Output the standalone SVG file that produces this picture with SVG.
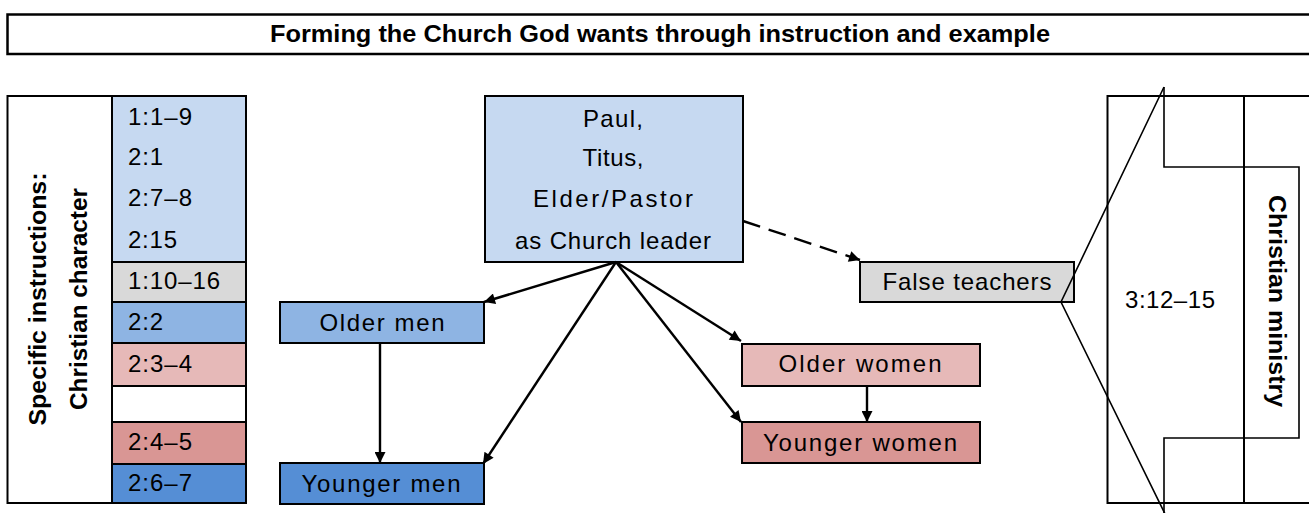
<svg xmlns="http://www.w3.org/2000/svg" width="1309" height="513" viewBox="0 0 1309 513">
<defs>
<style>
.t{font-family:"Liberation Sans",Arial,sans-serif;font-size:24px;fill:#000;}
.c{text-anchor:middle;}
.b{font-weight:bold;}
.box{stroke:#000;stroke-width:2;}
.ln{stroke:#000;stroke-width:2;fill:none;}
.con{stroke:#000;stroke-width:2.4;fill:none;}
.thin{stroke:#000;stroke-width:1.6;fill:none;}
</style>
<marker id="ah" viewBox="0 0 10 10" refX="10" refY="5" markerWidth="13" markerHeight="11" markerUnits="userSpaceOnUse" orient="auto">
<path d="M0,0 L10,5 L0,10 z" fill="#000"/>
</marker>
</defs>
<rect width="1309" height="513" fill="#fff"/>

<g id="title">
<rect x="7.5" y="14.5" width="1320" height="39.5" fill="#fff" stroke="#000" stroke-width="2.5"/>
<text class="t c b" x="660" y="41.5" font-size="23" textLength="780" lengthAdjust="spacingAndGlyphs">Forming the Church God wants through instruction and example</text>
</g>

<g id="left-panel">
<rect x="7.5" y="96" width="238.5" height="407" fill="#fff" class="box"/>
<rect x="112" y="96" width="134" height="166" fill="#C6D9F1" class="box"/>
<rect x="112" y="262" width="134" height="40" fill="#D9D9D9" class="box"/>
<rect x="112" y="302" width="134" height="41" fill="#8EB4E3" class="box"/>
<rect x="112" y="343" width="134" height="43" fill="#E6B9B8" class="box"/>
<rect x="112" y="386" width="134" height="36" fill="#fff" class="box"/>
<rect x="112" y="422" width="134" height="42" fill="#D99694" class="box"/>
<rect x="112" y="464" width="134" height="39" fill="#558ED5" class="box"/>
<text class="t" x="128" y="125" textLength="64">1:1–9</text>
<text class="t" x="128" y="165" textLength="35">2:1</text>
<text class="t" x="128" y="206" textLength="64">2:7–8</text>
<text class="t" x="128" y="248" textLength="49">2:15</text>
<text class="t" x="128" y="289" textLength="92">1:10–16</text>
<text class="t" x="128" y="330" textLength="35">2:2</text>
<text class="t" x="128" y="372" textLength="64">2:3–4</text>
<text class="t" x="128" y="450" textLength="64">2:4–5</text>
<text class="t" x="128" y="491" textLength="64">2:6–7</text>
<text class="t c b" transform="translate(38,299) rotate(-90)" x="0" y="8" font-size="23" textLength="253" lengthAdjust="spacingAndGlyphs">Specific instructions:</text>
<text class="t c b" transform="translate(79,299) rotate(-90)" x="0" y="8" font-size="23" textLength="222" lengthAdjust="spacingAndGlyphs">Christian character</text>
</g>

<g id="leader">
<rect x="485" y="96" width="258" height="166" fill="#C6D9F1" class="box"/>
<text class="t c" x="613" y="127" textLength="60">Paul,</text>
<text class="t c" x="613" y="166" textLength="61">Titus,</text>
<text class="t c" x="613" y="207" textLength="160">Elder/Pastor</text>
<text class="t c" x="613" y="249" textLength="196">as Church leader</text>
</g>

<g id="older-men">
<rect x="280" y="302" width="204" height="41" fill="#8EB4E3" class="box"/>
<text class="t c" x="382" y="331" textLength="125">Older men</text>
</g>

<g id="younger-men">
<rect x="280" y="463" width="204" height="41" fill="#558ED5" class="box"/>
<text class="t c" x="381" y="492" textLength="159">Younger men</text>
</g>

<g id="older-women">
<rect x="742" y="344" width="238" height="42" fill="#E6B9B8" class="box"/>
<text class="t c" x="860" y="372" textLength="163">Older women</text>
</g>

<g id="younger-women">
<rect x="742" y="422" width="238" height="41" fill="#D99694" class="box"/>
<text class="t c" x="860" y="451" textLength="194">Younger women</text>
</g>

<g id="false-teachers">
<rect x="860" y="262" width="214" height="40" fill="#D9D9D9" class="box"/>
<text class="t c" x="967" y="290" textLength="169">False teachers</text>
</g>

<g id="right-panel">
<path d="M1320,96 H1107.5 V503 H1320" class="ln"/>
<line x1="1244" y1="96" x2="1244" y2="503" class="ln"/>
<path d="M1164,87 V167 H1299 V438 H1164 V515" class="thin"/>
<path d="M1164,87 L1061,302 L1168,520" class="thin"/>
<text class="t" x="1125" y="308" textLength="90">3:12–15</text>
<text class="t c b" transform="translate(1277,301) rotate(90)" x="0" y="8" font-size="23" textLength="212" lengthAdjust="spacingAndGlyphs">Christian ministry</text>
</g>

<g id="connectors">
<line x1="616" y1="262" x2="484" y2="302" class="con" marker-end="url(#ah)"/>
<line x1="616" y1="262" x2="483" y2="464" class="con" marker-end="url(#ah)"/>
<line x1="616" y1="262" x2="741" y2="341" class="con" marker-end="url(#ah)"/>
<line x1="616" y1="262" x2="741" y2="422" class="con" marker-end="url(#ah)"/>
<line x1="743" y1="221" x2="860" y2="260" class="con" stroke-dasharray="18,9" marker-end="url(#ah)"/>
<line x1="380" y1="343" x2="380" y2="463" class="con" marker-end="url(#ah)"/>
<line x1="867" y1="386" x2="867" y2="422" class="con" marker-end="url(#ah)"/>
</g>
</svg>
